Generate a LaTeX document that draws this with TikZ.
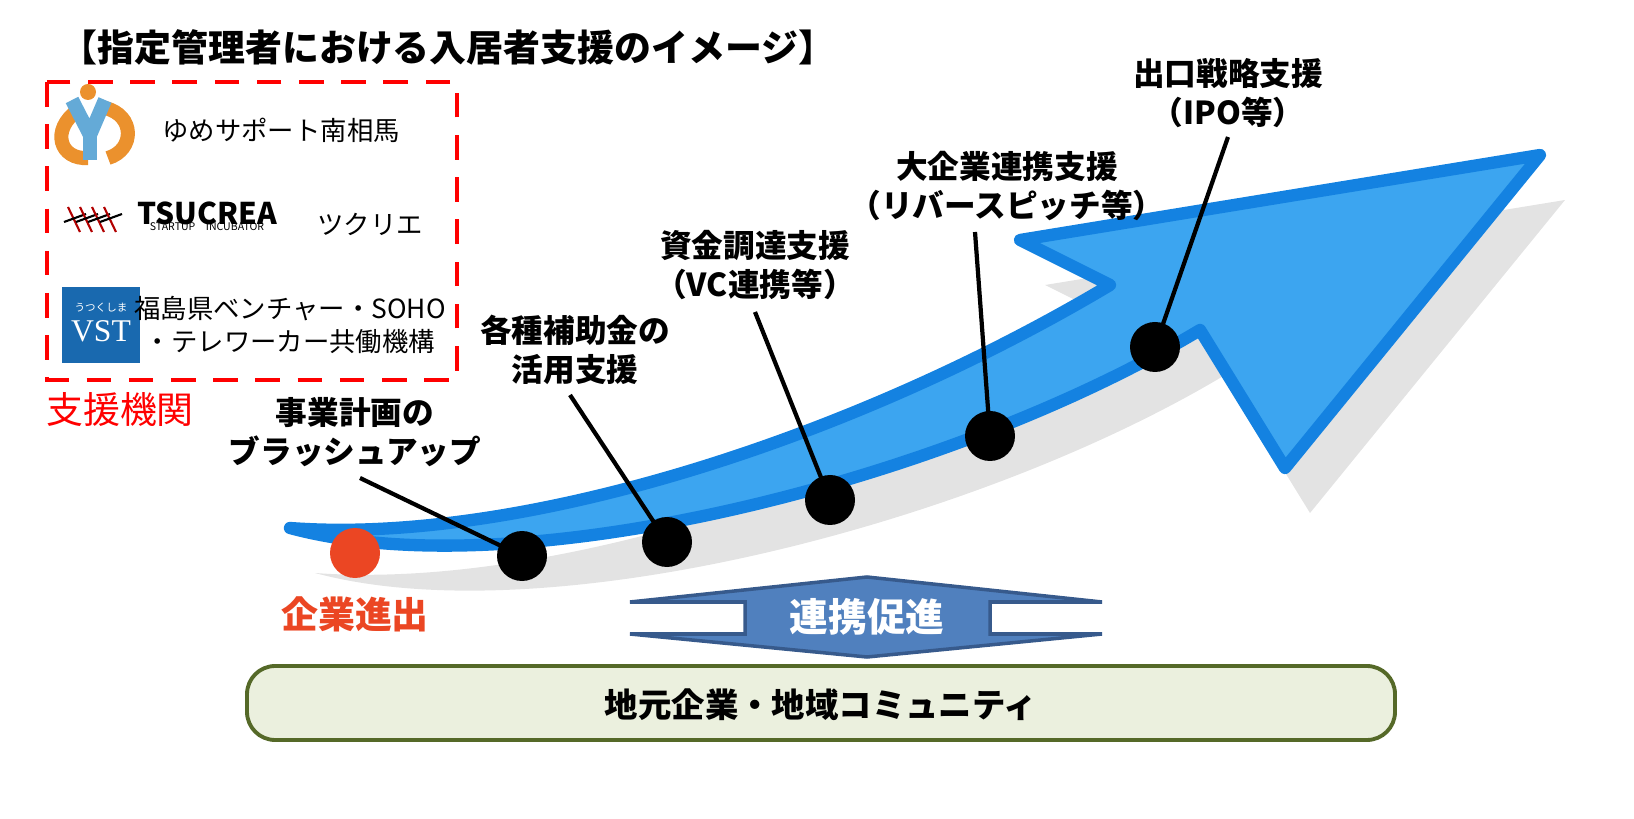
\documentclass[tikz,border=0pt]{standalone}
\usepackage{fontspec}
\setmainfont{Noto Sans CJK JP}
\newfontfamily\serifvst{Liberation Serif}
\usetikzlibrary{positioning}
\definecolor{arrowblue}{RGB}{20,130,225}
\definecolor{arrowlight}{RGB}{60,165,240}
\definecolor{dotred}{RGB}{235,70,35}
\definecolor{linkblue}{RGB}{80,128,190}
\definecolor{linkedge}{RGB}{55,90,140}
\definecolor{basefill}{RGB}{235,240,222}
\definecolor{baseedge}{RGB}{85,105,40}
\definecolor{vstblue}{RGB}{25,105,175}
\definecolor{yumeorange}{RGB}{235,145,45}
\definecolor{yumeblue}{RGB}{100,170,215}
\tikzset{
  step dot/.style={circle, fill=black, minimum size=50*0.01cm, inner sep=0pt},
  steplabel/.style={font=\bfseries\fontsize{9}{11}\selectfont, align=center},
  pointer/.style={line width=1.2pt},
  orgtext/.style={font=\fontsize{7.5}{9.5}\selectfont, align=center}
}
\begin{document}
\begin{tikzpicture}[x=0.01cm, y=-0.01cm]
  % shadow of the growth arrow
  \fill[gray!22, shift={(25,45)}]
    (290,528) .. controls (520,590) and (950,480) .. (1200,330)
    -- (1285,468) -- (1540,155) -- (1020,240) -- (1110,285)
    .. controls (850,440) and (520,545) .. cycle;
  % growth arrow
  \draw[arrowblue, line width=3.5pt, line join=round, fill=arrowlight]
    (290,528) .. controls (520,590) and (950,480) .. (1200,330)
    -- (1285,468) -- (1540,155) -- (1020,240) -- (1110,285)
    .. controls (850,440) and (520,545) .. cycle;
  % title
  \node[font=\bfseries\fontsize{10.5}{12}\selectfont] (title) at (448,47) {【指定管理者における入居者支援のイメージ】};
  % support organisations
  \draw[red, line width=1.4pt, dash pattern=on 7pt off 5pt] (47,82) rectangle (457,380);
  \node[red, font=\fontsize{10.5}{12}\selectfont] (orgs) at (120,410) {支援機関};
  % yume logo
  \draw[yumeorange, line width=4pt] (78,110) .. controls (50,130) and (60,160) .. (88,158);
  \draw[yumeorange, line width=4pt] (105,108) .. controls (135,115) and (135,150) .. (108,158);
  \draw[yumeblue, line width=4pt] (72,100) -- (90,135) -- (105,100);
  \draw[yumeblue, line width=4pt] (90,135) -- (90,160);
  \fill[yumeorange] (88,92) circle (8);
  \node[orgtext, anchor=west] (yume) at (150,130) {ゆめサポート南相馬};
  % tsucrea logo
  \foreach \dx in {0,12,24,36} {
    \draw[red!70!black, line width=0.6pt] (68+\dx,207) -- (80+\dx,232);
    \draw[black, line width=0.6pt] (64+\dx,222) -- (86+\dx,214);
  }
  \node[font=\bfseries\fontsize{8.5}{10}\selectfont, inner sep=0pt] (tsu) at (207,213) {TSUCREA};
  \node[font=\fontsize{3}{3}\selectfont, inner sep=0pt, below=3 of tsu] (tsusub) {STARTUP\quad INCUBATOR};
  \node[orgtext, anchor=west] (tsucrea) at (305,224) {ツクリエ};
  % vst logo
  \fill[vstblue] (62,287) rectangle (140,363);
  \node[white, font=\fontsize{3}{3}\selectfont] (vstkana) at (101,308) {うつくしま};
  \node[white, font=\serifvst\fontsize{9}{9}\selectfont, inner sep=0pt] (vstname) at (101,331) {VST};
  \node[orgtext] (vst) at (290,325) {福島県ベンチャー・SOHO\\・テレワーカー共働機構};
  % steps
  \node[circle, fill=dotred, minimum size=50*0.01cm, inner sep=0pt] (start) at (355,553) {};
  \node[dotred, font=\bfseries\fontsize{10.5}{12}\selectfont] (startlabel) at (355,614) {企業進出};
  \node[step dot] (d1) at (522,556) {};
  \node[step dot] (d2) at (667,542) {};
  \node[step dot] (d3) at (830,500) {};
  \node[step dot] (d4) at (990,436) {};
  \node[step dot] (d5) at (1155,347) {};
  \node[steplabel] (l1) at (355,432) {事業計画の\\ブラッシュアップ};
  \node[steplabel] (l2) at (575,350) {各種補助金の\\活用支援};
  \node[steplabel] (l3) at (755,265) {資金調達支援\\（VC連携等）};
  \node[steplabel] (l4) at (1007,186) {大企業連携支援\\（リバースピッチ等）};
  \node[steplabel] (l5) at (1228,93) {出口戦略支援\\（IPO等）};
  \coordinate (p1) at (360,478);
  \coordinate (p2) at (570,395);
  \coordinate (p3) at (755,312);
  \coordinate (p4) at (975,232);
  \coordinate (p5) at (1228,137);
  \foreach \i in {1,...,5} {
    \draw[pointer] (p\i) -- (d\i.center);
  }
  % link promotion
  \draw[linkedge, line width=1pt, fill=linkblue]
    (630,602) -- (867,577) -- (1102,602) -- (990,602) -- (990,634) -- (1102,634)
    -- (867,657) -- (630,634) -- (745,634) -- (745,602) -- cycle;
  \node[white, font=\bfseries\fontsize{11}{12}\selectfont] (link) at (867,617) {連携促進};
  % local base
  \draw[baseedge, line width=1.1pt, fill=basefill, rounded corners=8] (247,666) rectangle (1395,740);
  \node[font=\bfseries\fontsize{9.5}{11}\selectfont] (base) at (821,705) {地元企業・地域コミュニティ};
  \pgfresetboundingbox
  \useasboundingbox (0,0) rectangle (1634,819);
\end{tikzpicture}
\end{document}
